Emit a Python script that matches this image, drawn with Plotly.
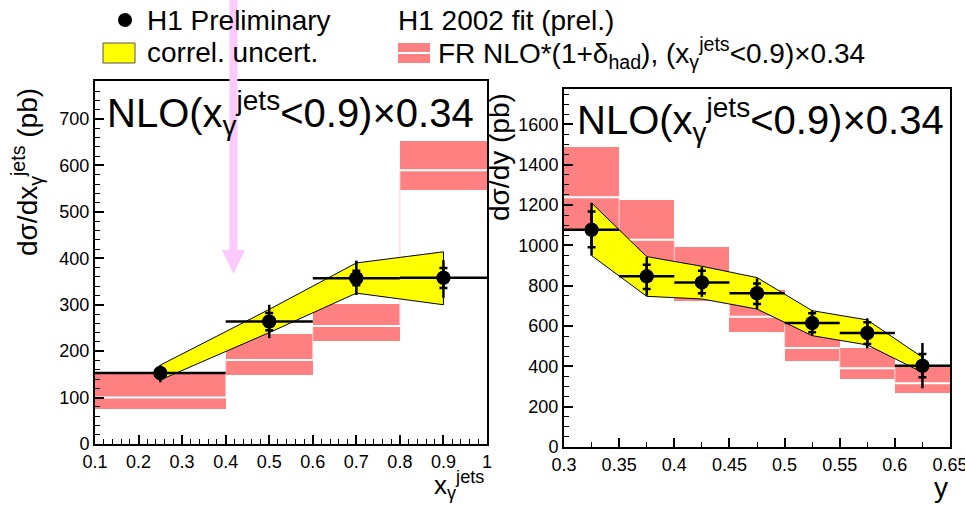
import plotly.graph_objects as go

W, H = 965, 505

# ---------------- data: left panel (x_gamma^jets) ----------------
xg_edges = [0.1, 0.4, 0.6, 0.8, 1.0]
xg_pts = [0.25, 0.5, 0.7, 0.9]
xg_val = [153, 264, 357, 358]
xg_tot_hi = [170, 300, 395, 396]
xg_tot_lo = [133, 228, 321, 315]
xg_stat_hi = [162, 282, 373, 379]
xg_stat_lo = [144, 245, 342, 336]
xg_band_hi = [170, 290, 390, 414]
xg_band_lo = [138, 240, 325, 300]
xg_nlo_lo = [75, 148, 222, 547]
xg_nlo_hi = [150, 237, 302, 653]
xg_nlo_mid = [100, 181, 254, 590]
xg_ticks = [0.1, 0.2, 0.3, 0.4, 0.5, 0.6, 0.7, 0.8, 0.9, 1.0]
xg_ticktext = ["0.1", "0.2", "0.3", "0.4", "0.5", "0.6", "0.7", "0.8", "0.9", "1"]

# ---------------- data: right panel (y) ----------------
y_edges = [0.3, 0.35, 0.4, 0.45, 0.5, 0.55, 0.6, 0.65]
y_pts = [0.325, 0.375, 0.425, 0.475, 0.525, 0.575, 0.625]
y_val = [1077, 846, 816, 762, 615, 565, 403]
y_tot_hi = [1210, 942, 892, 836, 676, 638, 516]
y_tot_lo = [949, 750, 744, 684, 552, 489, 291]
y_stat_hi = [1168, 904, 874, 811, 663, 618, 461]
y_stat_lo = [990, 783, 762, 709, 569, 511, 346]
y_band_hi = [1210, 944, 896, 840, 676, 630, 445]
y_band_lo = [949, 747, 734, 684, 552, 506, 370]
y_nlo_lo = [1075, 860, 725, 568, 428, 337, 266]
y_nlo_hi = [1486, 1226, 990, 778, 620, 489, 398]
y_nlo_mid = [1238, 1028, 855, 646, 491, 390, 316]
y_ticks = [0.3, 0.35, 0.4, 0.45, 0.5, 0.55, 0.6, 0.65]
y_ticktext = ["0.3", "0.35", "0.4", "0.45", "0.5", "0.55", "0.6", "0.65"]

RED = "#ff8080"
YEL = "#ffff00"
FONT = "Liberation Sans, Arial, Helvetica, sans-serif"


def px(x):
    return x / W


def py(y):
    return 1 - y / H


fig = go.Figure()


def add_panel(edges, pts, val, tot_hi, tot_lo, st_hi, st_lo, b_hi, b_lo,
              n_lo, n_hi, n_mid, xa, ya):
    centers = [(edges[i] + edges[i + 1]) / 2 for i in range(len(edges) - 1)]
    widths = [edges[i + 1] - edges[i] for i in range(len(edges) - 1)]
    # faint step line of central NLO value
    sx, sy = [], []
    for i in range(len(n_mid)):
        sx += [edges[i], edges[i + 1]]
        sy += [n_mid[i], n_mid[i]]
    fig.add_trace(go.Scatter(x=sx, y=sy, mode="lines", xaxis=xa, yaxis=ya,
                             line=dict(color="#ffd6d6", width=1),
                             showlegend=False, hoverinfo="skip"))
    # NLO uncertainty boxes
    fig.add_trace(go.Bar(x=centers, y=[h - l for h, l in zip(n_hi, n_lo)],
                         base=n_lo, width=widths, xaxis=xa, yaxis=ya,
                         marker=dict(color=RED, line=dict(width=0)),
                         showlegend=False, hoverinfo="skip"))
    # white central lines
    wx, wy = [], []
    for i in range(len(n_mid)):
        wx += [edges[i], edges[i + 1], None]
        wy += [n_mid[i], n_mid[i], None]
    fig.add_trace(go.Scatter(x=wx, y=wy, mode="lines", xaxis=xa, yaxis=ya,
                             line=dict(color="white", width=2),
                             showlegend=False, hoverinfo="skip"))
    # correlated uncertainty band
    fig.add_trace(go.Scatter(x=pts + pts[::-1], y=b_hi + b_lo[::-1],
                             xaxis=xa, yaxis=ya, mode="lines", fill="toself",
                             fillcolor=YEL, line=dict(color="black", width=1),
                             showlegend=False, hoverinfo="skip"))
    half = [w / 2 for w in widths]
    # total errors + bin widths
    fig.add_trace(go.Scatter(
        x=pts, y=val, mode="markers", xaxis=xa, yaxis=ya,
        marker=dict(color="black", size=14),
        error_y=dict(type="data", symmetric=False,
                     array=[h - v for h, v in zip(tot_hi, val)],
                     arrayminus=[v - l for v, l in zip(val, tot_lo)],
                     color="black", thickness=2.5, width=0),
        error_x=dict(type="data", array=half, color="black",
                     thickness=2.5, width=0),
        showlegend=False, hoverinfo="skip"))
    # statistical errors with small caps
    fig.add_trace(go.Scatter(
        x=pts, y=val, mode="markers", xaxis=xa, yaxis=ya,
        marker=dict(color="black", size=14),
        error_y=dict(type="data", symmetric=False,
                     array=[h - v for h, v in zip(st_hi, val)],
                     arrayminus=[v - l for v, l in zip(val, st_lo)],
                     color="black", thickness=2.5, width=4),
        showlegend=False, hoverinfo="skip"))


add_panel(xg_edges, xg_pts, xg_val, xg_tot_hi, xg_tot_lo, xg_stat_hi, xg_stat_lo,
          xg_band_hi, xg_band_lo, xg_nlo_lo, xg_nlo_hi, xg_nlo_mid, "x", "y")
add_panel(y_edges, y_pts, y_val, y_tot_hi, y_tot_lo, y_stat_hi, y_stat_lo,
          y_band_hi, y_band_lo, y_nlo_lo, y_nlo_hi, y_nlo_mid, "x2", "y2")

axis_common = dict(showline=True, linewidth=2, linecolor="black", mirror=True,
                   showgrid=False, zeroline=False, ticks="inside", ticklen=9,
                   tickwidth=1.5, tickcolor="black", automargin=False,
                   ticklabeloverflow="allow",
                   tickfont=dict(family=FONT, size=18, color="black"))

fig.update_layout(
    width=W, height=H, margin=dict(l=0, r=0, t=0, b=0, autoexpand=False),
    paper_bgcolor="white", plot_bgcolor="white", barmode="overlay",
    bargap=0, showlegend=False, font=dict(family=FONT, color="black"),
    xaxis=dict(domain=[px(95), px(487)], range=[0.1, 1.0], anchor="y",
               tickmode="array", tickvals=xg_ticks, ticktext=xg_ticktext,
               minor=dict(dtick=0.02, tick0=0.1, ticklen=5, ticks="inside",
                          tickcolor="black", tickwidth=1),
               **axis_common),
    yaxis=dict(domain=[py(444), py(81)], range=[0, 782], anchor="x",
               dtick=100, tick0=0,
               minor=dict(dtick=20, ticklen=5, ticks="inside",
                          tickcolor="black", tickwidth=1),
               **axis_common),
    xaxis2=dict(domain=[px(564), px(950)], range=[0.3, 0.65], anchor="y2",
                tickmode="array", tickvals=y_ticks, ticktext=y_ticktext,
                minor=dict(dtick=0.025, tick0=0.3, ticklen=5, ticks="inside",
                           tickcolor="black", tickwidth=1),
                **axis_common),
    yaxis2=dict(domain=[py(447), py(89)], range=[0, 1775], anchor="x2",
                dtick=200, tick0=0,
                minor=dict(dtick=50, ticklen=5, ticks="inside",
                           tickcolor="black", tickwidth=1),
                **axis_common),
)

ann = []


def text(x, y, s, size, xanchor="left", yanchor="middle", angle=0):
    ann.append(dict(x=px(x), y=py(y), xref="paper", yref="paper", text=s,
                    showarrow=False, xanchor=xanchor, yanchor=yanchor,
                    textangle=angle, borderpad=0,
                    font=dict(family=FONT, size=size, color="black")))


nlo = "NLO(x<sub>γ</sub><sup>jets</sup><0.9)×0.34"
text(106, 113, nlo, 40)
text(576, 120, nlo, 40)
# legend texts
text(146, 20, "H1 Preliminary", 28)
text(146, 53, "correl. uncert.", 28)
text(397, 20, "H1 2002 fit (prel.)", 28)
text(437, 53, "FR NLO*(1+δ<sub>had</sub>), (x<sub>γ</sub><sup>jets</sup><0.9)×0.34", 28)
# axis titles
text(27, 172, "dσ/dx<sub>γ</sub><sup>jets</sup> (pb)", 28, xanchor="center", angle=-90)
text(499, 157, "dσ/dy (pb)", 28, xanchor="center", angle=-90)
text(485, 485, "x<sub>γ</sub><sup>jets</sup>", 26, xanchor="right")
text(941, 487, "y", 28, xanchor="center")

shapes = [
    # legend marker
    dict(type="circle", xref="paper", yref="paper", x0=px(118), x1=px(132),
         y0=py(27), y1=py(13), fillcolor="black", line=dict(width=0)),
    # yellow swatch
    dict(type="rect", xref="paper", yref="paper", x0=px(103), x1=px(135),
         y0=py(63), y1=py(43), fillcolor=YEL, line=dict(color="#555555", width=1)),
    # red swatch with white line
    dict(type="rect", xref="paper", yref="paper", x0=px(398), x1=px(430),
         y0=py(63), y1=py(43), fillcolor=RED, line=dict(width=0)),
    dict(type="line", xref="paper", yref="paper", x0=px(398), x1=px(430),
         y0=py(53), y1=py(53), line=dict(color="white", width=2)),
    # pink arrow
    dict(type="line", xref="paper", yref="paper", x0=px(233.5), x1=px(233.5),
         y0=py(0), y1=py(252), line=dict(color="#fccafc", width=8), layer="above"),
    dict(type="path", xref="paper", yref="paper",
         path=f"M {px(222)} {py(250)} L {px(245)} {py(250)} L {px(233.5)} {py(274)} Z",
         fillcolor="#fccafc", line=dict(width=0), layer="above"),
]

fig.update_layout(annotations=ann, shapes=shapes)
fig.write_html("out.html")
